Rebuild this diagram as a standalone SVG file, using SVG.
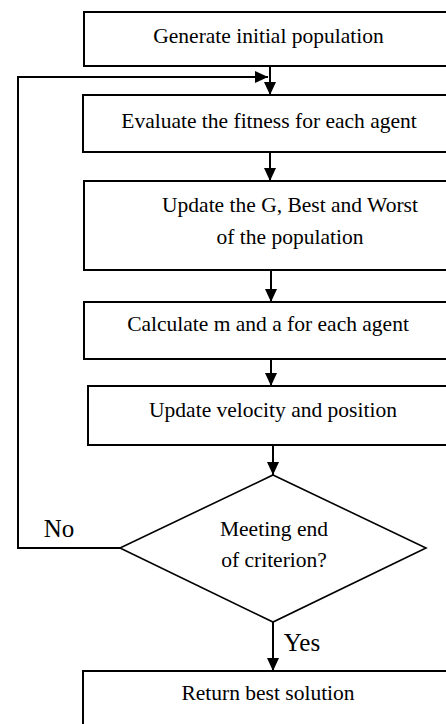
<svg xmlns="http://www.w3.org/2000/svg" width="446" height="724" viewBox="0 0 446 724">
<style>
.box{fill:#fff;stroke:#000;stroke-width:2}
.dia{fill:#fff;stroke:#000;stroke-width:1.6}
.c{fill:none;stroke:#000;stroke-width:2}
</style>
<defs>
<marker id="ah" markerWidth="14" markerHeight="14" refX="13" refY="7" orient="auto" markerUnits="userSpaceOnUse">
<path d="M0,1 L13,7 L0,13 Z" fill="#000"/>
</marker>
</defs>
<rect width="446" height="724" fill="#fff"/>
<g id="n1"><rect class="box" x="84" y="12" width="380" height="54"/><text style="font-family:'Liberation Serif',serif;font-size:21.5px" text-anchor="middle" x="268.5" y="43">Generate initial population</text></g>
<g id="n2"><rect class="box" x="83" y="95" width="380" height="57"/><text style="font-family:'Liberation Serif',serif;font-size:21.5px" text-anchor="middle" x="269" y="128">Evaluate the fitness for each agent</text></g>
<g id="n3"><rect class="box" x="84" y="181" width="380" height="89"/><text style="font-family:'Liberation Serif',serif;font-size:21.5px" text-anchor="middle" x="290" y="212">Update the G, Best and Worst</text><text style="font-family:'Liberation Serif',serif;font-size:21.5px" text-anchor="middle" x="290" y="244">of the population</text></g>
<g id="n4"><rect class="box" x="84" y="302" width="380" height="57"/><text style="font-family:'Liberation Serif',serif;font-size:21.5px" text-anchor="middle" x="268" y="331">Calculate m and a for each agent</text></g>
<g id="n5"><rect class="box" x="88" y="386" width="380" height="59"/><text style="font-family:'Liberation Serif',serif;font-size:21.5px" text-anchor="middle" x="273" y="417">Update velocity and position</text></g>
<g id="n6"><polygon class="dia" points="273,475 426,548 273,622 120,548"/><text style="font-family:'Liberation Serif',serif;font-size:21.5px" text-anchor="middle" x="274" y="536">Meeting end</text><text style="font-family:'Liberation Serif',serif;font-size:21.5px" text-anchor="middle" x="274" y="567">of criterion?</text></g>
<g id="n7"><rect class="box" x="83" y="671" width="380" height="70"/><text style="font-family:'Liberation Serif',serif;font-size:21.5px" text-anchor="middle" x="268" y="700">Return best solution</text></g>
<g id="connectors">
<line class="c" x1="270" y1="66" x2="270" y2="95" marker-end="url(#ah)"/>
<polyline class="c" points="120,548 18,548 18,77 268,77" marker-end="url(#ah)"/>
<line class="c" x1="270" y1="152" x2="270" y2="181" marker-end="url(#ah)"/>
<line class="c" x1="271" y1="270" x2="271" y2="302" marker-end="url(#ah)"/>
<line class="c" x1="271" y1="359" x2="271" y2="386" marker-end="url(#ah)"/>
<line class="c" x1="273" y1="445" x2="273" y2="475" marker-end="url(#ah)"/>
<line class="c" x1="273" y1="622" x2="273" y2="671" marker-end="url(#ah)"/>
<text style="font-family:'Liberation Serif',serif;font-size:25px" text-anchor="middle" x="59" y="537">No</text>
<text style="font-family:'Liberation Serif',serif;font-size:25px" text-anchor="middle" x="302" y="651">Yes</text>
</g>
</svg>
